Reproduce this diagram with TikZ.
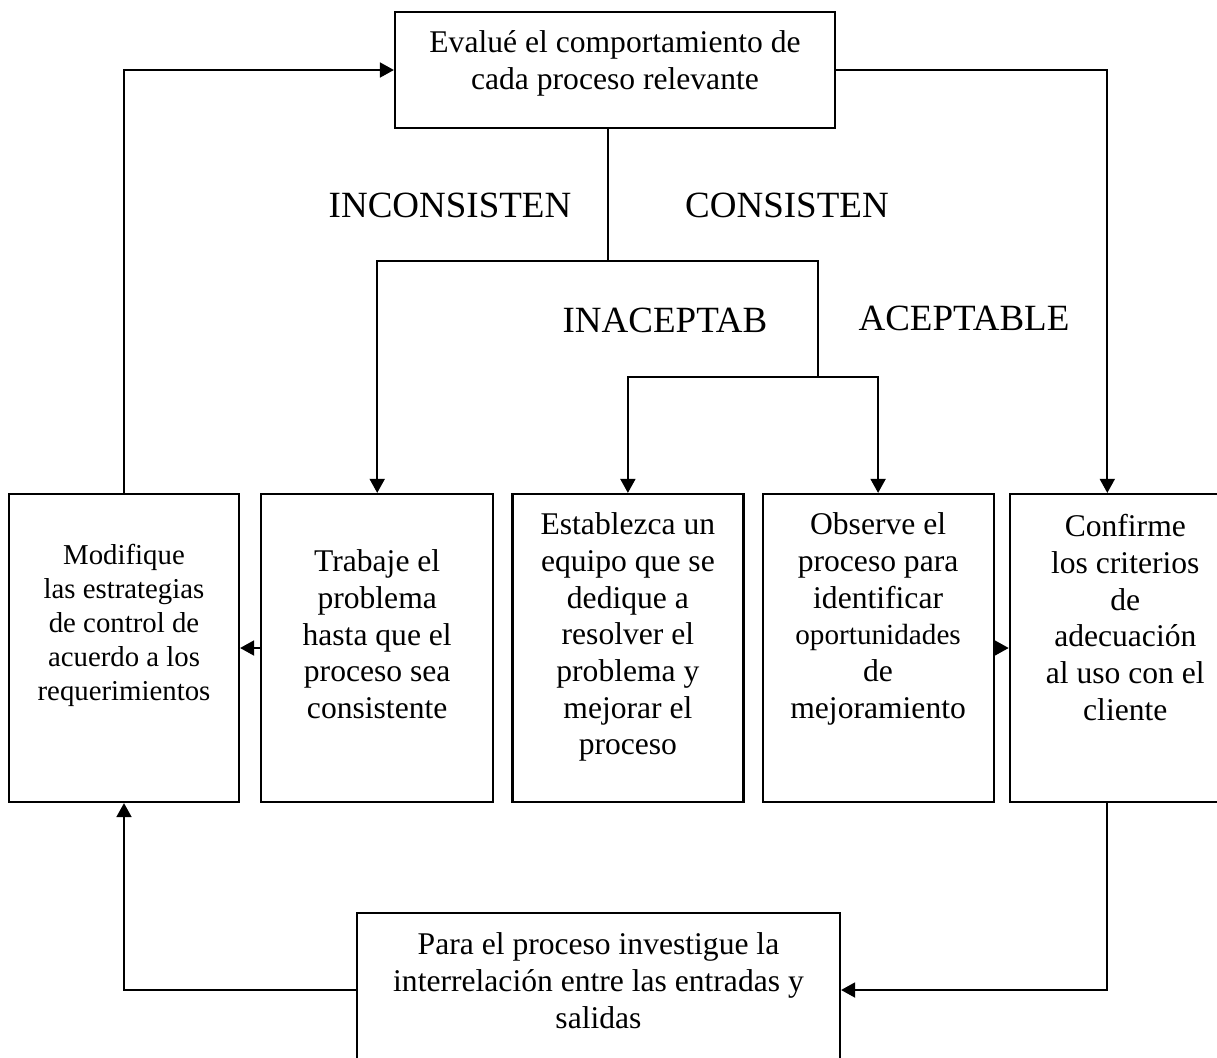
\documentclass[tikz,border=0pt]{standalone}
\usepackage{fontspec}
\setmainfont{Liberation Serif}
\usetikzlibrary{positioning, arrows.meta}

% text block of a box: width, height, top pad, lines
\newcommand{\boxtext}[4]{\parbox[c][#2][t]{#1}{\centering\vspace*{#3}\strut #4\par}}

\begin{document}
\begin{tikzpicture}[
    x=0.5pt, y=0.5pt,
    procbox/.style={rectangle, draw, line width=1.1pt, inner sep=0pt, font=\fontsize{15.8}{18.35}\selectfont},
    caption/.style={inner sep=0pt, font=\fontsize{18.5}{22}\selectfont},
    link/.style={line width=0.9pt},
    arrow/.style={-{Triangle[length=7pt, width=7.5pt]}, line width=0.9pt}
]
\useasboundingbox (0,0) rectangle (1217,-1057);
\clip (0,0) rectangle (1217,-1057);

% Top box
\node[procbox] (eval) at (615,-70) {\boxtext{220pt}{58pt}{7.5pt}{Evalué el comportamiento de\\ cada proceso relevante}};

% Row of boxes
\node[procbox, font=\fontsize{14.4}{17}\selectfont] (modif) at (124,-648) {\boxtext{115pt}{154pt}{23.5pt}{Modifique\\ las estrategias\\ de control de\\ acuerdo a los\\ requerimientos}};
\node[procbox, right=10pt of modif] (trab) {\boxtext{116pt}{154pt}{26pt}{Trabaje el\\ problema\\ hasta que el\\ proceso sea\\ consistente}};
\node[procbox, right=8.5pt of trab] (estab) {\boxtext{115.5pt}{154pt}{7.5pt}{Establezca un\\ equipo que se\\ dedique a\\ resolver el\\ problema y\\ mejorar el\\ proceso}};
\node[procbox, right=8.5pt of estab] (obs) {\boxtext{115.5pt}{154pt}{7.5pt}{Observe el\\ proceso para\\ identificar\\ {\fontsize{14.6}{18.35}\selectfont oportunidades}\\ de\\ mejoramiento}};
\node[procbox, right=7pt of obs] (conf) {\boxtext{115.5pt}{154pt}{8.5pt}{Confirme\\ los criterios\\ de\\ adecuación\\ al uso con el\\ cliente}};

% Bottom box
\node[procbox] (inv) at (598.5,-990) {\boxtext{241.5pt}{77pt}{8pt}{Para el proceso investigue la\\ interrelación entre las entradas y\\ salidas}};

% Branch labels
\node[caption] (incons) at (450,-205) {INCONSISTEN};
\node[caption] (cons) at (787,-205) {CONSISTEN};
\node[caption] (inacep) at (665,-320) {INACEPTAB};
\node[caption] (acep) at (964,-318) {ACEPTABLE};

% Branch points
\coordinate (fork1) at (608,-261);
\coordinate (fork2) at (818,-377);

% Connectors
\draw[link] (eval.south -| fork1) -- (fork1);
\draw[arrow] (fork1) -| (trab.north);
\draw[link] (fork1) -| (fork2);
\draw[arrow] (fork2) -| (estab.north);
\draw[arrow] (fork2) -| (obs.north);
\draw[arrow] (eval.east) -| ([xshift=-9pt]conf.north);
\draw[arrow] (modif.north) |- (eval.west);
\draw[arrow] (trab.west) -- (modif.east);
\draw[arrow] (obs.east) -- (conf.west);
\draw[arrow] ([xshift=-9pt]conf.south) |- (inv.east);
\draw[arrow] (inv.west) -| (modif.south);

\end{tikzpicture}
\end{document}
